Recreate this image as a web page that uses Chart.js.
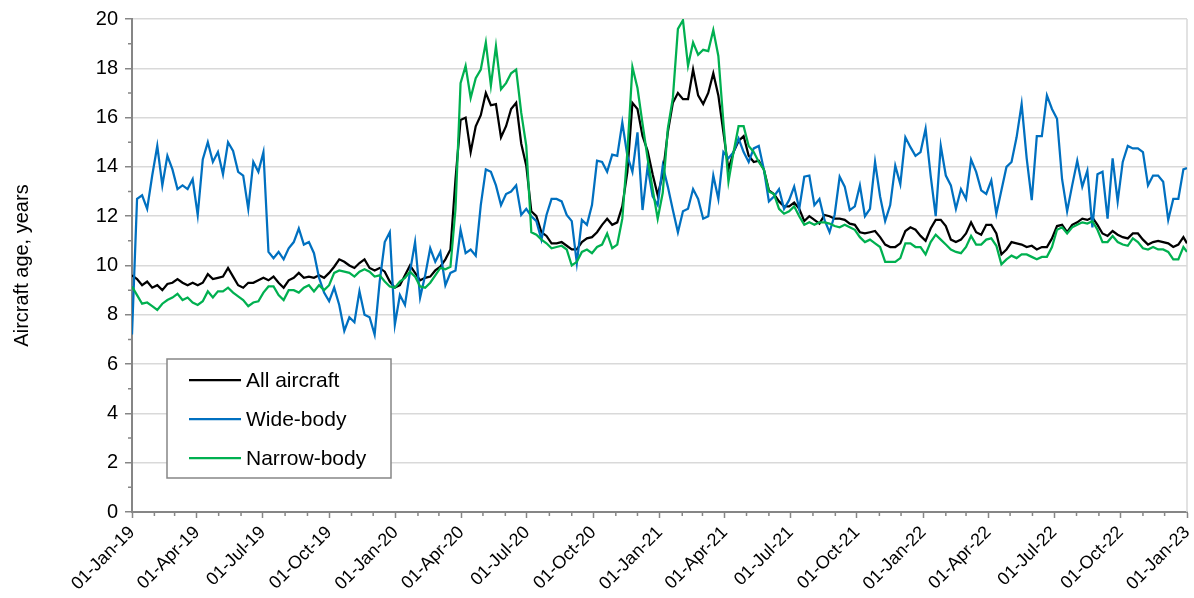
<!DOCTYPE html>
<html>
<head>
<meta charset="utf-8">
<title>Aircraft age</title>
<script src="https://cdn.jsdelivr.net/npm/chart.js@4.4.1/dist/chart.umd.min.js"></script>
<style>
  html, body { margin: 0; padding: 0; background: #fff; }
  #wrap { width: 1194px; height: 598px; }
</style>
</head>
<body>
<div id="wrap"><canvas id="ageChart" width="1194" height="598"></canvas></div>
<script>
const seriesNames = ['All aircraft', 'Wide-body', 'Narrow-body'];
const seriesColors = ['#000000', '#0070C0', '#00B050'];

// weekly samples starting 01-Jan-19, last one on 01-Jan-23
const startDate = Date.UTC(2019, 0, 1);
const stepDays = 7;
const endDay = 1461;

const allAircraft = [
  9.6, 9.45, 9.2, 9.35, 9.1, 9.2, 9.0, 9.25, 9.3, 9.45,
  9.3, 9.2, 9.3, 9.2, 9.3, 9.65, 9.45, 9.5, 9.55, 9.9,
  9.55, 9.2, 9.1, 9.3, 9.3, 9.4, 9.5, 9.4, 9.55, 9.3,
  9.1, 9.4, 9.5, 9.7, 9.5, 9.55, 9.5, 9.6, 9.5, 9.7,
  9.95, 10.25, 10.15, 10.0, 9.9, 10.1, 10.25, 9.9, 9.8, 9.9,
  9.75, 9.35, 9.1, 9.2, 9.6, 10.0, 9.7, 9.4, 9.5, 9.55,
  9.8, 9.95, 10.25, 10.65, 13.5, 15.9, 16.0, 14.6, 15.65, 16.1,
  17.0, 16.5, 16.55, 15.2, 15.65, 16.35, 16.6, 14.95, 14.05, 12.2,
  12.0, 11.35, 11.2, 10.9, 10.9, 10.95, 10.8, 10.65, 10.65, 10.95,
  11.1, 11.15, 11.35, 11.65, 11.9, 11.65, 11.75, 12.4, 13.8, 16.6,
  16.35, 15.25, 14.65, 13.7, 12.85, 13.7, 15.4, 16.6, 17.0, 16.75,
  16.75, 17.95, 16.9, 16.55, 17.0, 17.8, 16.9, 15.4, 13.9, 14.6,
  15.05, 15.25, 14.45, 14.2, 14.25, 13.9, 13.05, 12.9, 12.6, 12.4,
  12.4, 12.55, 12.3, 11.8, 12.0, 11.85, 11.7, 12.05, 12.0, 11.9,
  11.9, 11.85, 11.7, 11.65, 11.35, 11.3, 11.35, 11.4, 11.15, 10.85,
  10.75, 10.75, 10.9, 11.4, 11.55, 11.45, 11.2, 11.0, 11.5, 11.85,
  11.85, 11.6, 11.05, 10.95, 11.05, 11.3, 11.75, 11.35, 11.25, 11.65,
  11.65, 11.3, 10.45, 10.65, 10.95, 10.9, 10.85, 10.75, 10.8, 10.65,
  10.75, 10.75, 11.1, 11.6, 11.65, 11.35, 11.65, 11.75, 11.9, 11.85,
  11.95, 11.65, 11.3, 11.2, 11.4, 11.25, 11.15, 11.1, 11.3, 11.3,
  11.05, 10.85, 10.95, 11.0, 10.95, 10.9, 10.75, 10.85, 11.15, 10.9
];

const wideBody = [
  7.2, 12.7, 12.85, 12.3, 13.65, 14.85, 13.25, 14.45, 13.9, 13.1,
  13.25, 13.1, 13.5, 12.05, 14.3, 15.0, 14.2, 14.6, 13.7, 15.0,
  14.65, 13.8, 13.65, 12.3, 14.2, 13.8, 14.6, 10.55, 10.3, 10.55,
  10.25, 10.7, 10.95, 11.5, 10.85, 10.95, 10.5, 9.5, 8.9, 8.55,
  9.1, 8.4, 7.35, 7.9, 7.7, 8.95, 8.0, 7.9, 7.2, 9.35,
  10.95, 11.35, 7.6, 8.8, 8.4, 9.75, 10.95, 8.7, 9.6, 10.7,
  10.15, 10.55, 9.2, 9.7, 9.8, 11.45, 10.5, 10.65, 10.4, 12.45,
  13.9, 13.8, 13.25, 12.45, 12.9, 13.0, 13.25, 12.05, 12.3, 12.0,
  11.8, 11.05, 12.05, 12.7, 12.7, 12.6, 12.05, 11.8, 10.1, 11.85,
  11.65, 12.45, 14.25, 14.2, 13.8, 14.5, 14.45, 15.8, 14.45, 13.8,
  15.4, 12.25, 14.0, 12.8, 12.45, 14.05, 13.2, 12.25, 11.35, 12.2,
  12.3, 13.1, 12.7, 11.9, 12.0, 13.65, 12.7, 14.6, 14.35, 14.6,
  15.15, 14.6, 14.2, 14.75, 14.85, 13.9, 12.6, 12.8, 13.1, 12.3,
  12.65, 13.2, 12.3, 13.6, 13.65, 12.45, 12.7, 11.85, 11.35, 12.05,
  13.6, 13.2, 12.25, 12.4, 13.25, 12.0, 12.3, 14.2, 12.8, 11.8,
  12.45, 14.05, 13.3, 15.2, 14.8, 14.45, 14.6, 15.55, 13.65, 12.0,
  14.85, 13.65, 13.25, 12.3, 13.1, 12.7, 14.3, 13.8, 13.05, 12.9,
  13.45, 12.1, 13.05, 14.0, 14.2, 15.2, 16.55, 14.35, 12.65, 15.25,
  15.25, 16.9, 16.35, 15.95, 13.5, 12.2, 13.25, 14.25, 13.2, 13.85,
  11.55, 13.7, 13.8, 11.9, 14.35, 12.6, 14.2, 14.85, 14.75, 14.75,
  14.6, 13.25, 13.65, 13.65, 13.4, 11.85, 12.7, 12.7, 13.9, 13.95
];

const narrowBody = [
  9.15, 8.8, 8.45, 8.5, 8.35, 8.2, 8.45, 8.6, 8.7, 8.85,
  8.6, 8.7, 8.5, 8.4, 8.55, 8.95, 8.7, 8.95, 8.95, 9.1,
  8.9, 8.75, 8.6, 8.35, 8.5, 8.55, 8.9, 9.15, 9.15, 8.8,
  8.6, 9.0, 9.0, 8.9, 9.1, 9.2, 8.95, 9.2, 9.0, 9.2,
  9.7, 9.8, 9.75, 9.7, 9.55, 9.75, 9.85, 9.75, 9.55, 9.6,
  9.35, 9.15, 9.1, 9.35, 9.5, 9.75, 9.55, 9.15, 9.1, 9.3,
  9.6, 9.9, 9.85, 9.95, 12.3, 17.4, 18.1, 16.8, 17.6, 17.95,
  19.05, 17.3, 18.9, 17.15, 17.4, 17.8, 17.95, 16.2, 14.85, 11.35,
  11.25, 11.05, 10.9, 10.7, 10.75, 10.8, 10.65, 10.0, 10.15, 10.55,
  10.65, 10.5, 10.75, 10.85, 11.3, 10.7, 10.85, 11.9, 14.6, 18.05,
  17.2, 15.75, 14.35, 13.1, 11.9, 12.95, 15.55, 16.8, 19.6, 19.95,
  18.1, 19.05, 18.55, 18.75, 18.7, 19.55, 18.5, 15.8, 13.4, 14.6,
  15.65, 15.65, 14.85, 14.6, 14.2, 13.9, 13.0, 12.9, 12.3, 12.1,
  12.2, 12.4, 12.0, 11.65, 11.75, 11.65, 11.75, 11.75, 11.7, 11.6,
  11.55, 11.65, 11.55, 11.45, 11.15, 10.95, 11.05, 10.9, 10.75, 10.15,
  10.15, 10.15, 10.3, 10.9, 10.9, 10.75, 10.75, 10.45, 10.95, 11.25,
  11.05, 10.85, 10.65, 10.55, 10.5, 10.75, 11.2, 10.85, 10.85, 11.05,
  11.1, 10.8, 10.05, 10.25, 10.4, 10.3, 10.45, 10.45, 10.35, 10.25,
  10.35, 10.35, 10.75, 11.45, 11.55, 11.3, 11.55, 11.65, 11.75, 11.7,
  11.8, 11.45, 10.95, 10.95, 11.2, 10.95, 10.85, 10.8, 11.1, 10.95,
  10.7, 10.65, 10.75, 10.65, 10.65, 10.55, 10.25, 10.25, 10.75, 10.55
];

const yTicks = [0, 2, 4, 6, 8, 10, 12, 14, 16, 18, 20];
const yMinorTicks = [1, 3, 5, 7, 9, 11, 13, 15, 17, 19];
const monthNames = ['Jan', 'Feb', 'Mar', 'Apr', 'May', 'Jun', 'Jul', 'Aug', 'Sep', 'Oct', 'Nov', 'Dec'];

const FONT = '"Liberation Sans", Arial, sans-serif';
const AXIS_GREY = '#868686';

function dayToDate(d) {
  return new Date(startDate + d * 86400000);
}

function fmtDate(d) {
  const dt = dayToDate(d);
  const yy = String(dt.getUTCFullYear()).slice(2);
  return String(dt.getUTCDate()).padStart(2, '0') + '-' + monthNames[dt.getUTCMonth()] + '-' + yy;
}

// first day of every month on the axis; quarters get a label
const monthStarts = [];
for (let y = 2019; y <= 2023; y++) {
  for (let m = 0; m < 12; m++) {
    const d = (Date.UTC(y, m, 1) - startDate) / 86400000;
    if (d <= endDay) monthStarts.push(d);
  }
}
const quarterStarts = monthStarts.filter(d => dayToDate(d).getUTCMonth() % 3 === 0);

function toPoints(values) {
  return values.map((v, i) => ({ x: Math.min(i * stepDays, endDay), y: v }));
}

// short unlabelled ticks: months on x, odd years on y
const minorTicks = {
  id: 'minorTicks',
  afterDraw(chart) {
    const ctx = chart.ctx;
    const xs = chart.scales.x;
    const ys = chart.scales.y;
    ctx.save();
    ctx.strokeStyle = AXIS_GREY;
    ctx.lineWidth = 1.5;
    ctx.beginPath();
    monthStarts.forEach(d => {
      if (quarterStarts.includes(d)) return;
      const px = xs.getPixelForValue(d);
      ctx.moveTo(px, xs.top);
      ctx.lineTo(px, xs.top + 4);
    });
    yMinorTicks.forEach(v => {
      const py = ys.getPixelForValue(v);
      ctx.moveTo(ys.right - 4, py);
      ctx.lineTo(ys.right, py);
    });
    ctx.stroke();
    ctx.restore();
  }
};

// thin frame line on the right side of the plot
const rightEdge = {
  id: 'rightEdge',
  beforeDatasetsDraw(chart) {
    const a = chart.chartArea;
    const ctx = chart.ctx;
    ctx.save();
    ctx.strokeStyle = '#d9d9d9';
    ctx.lineWidth = 1.5;
    ctx.beginPath();
    ctx.moveTo(a.right, a.top);
    ctx.lineTo(a.right, a.bottom);
    ctx.stroke();
    ctx.restore();
  }
};

// boxed legend inside the plot, lower left
const boxLegend = {
  id: 'boxLegend',
  afterDraw(chart, args, opts) {
    const ctx = chart.ctx;
    ctx.save();
    ctx.fillStyle = '#fff';
    ctx.fillRect(opts.x, opts.y, opts.w, opts.h);
    ctx.strokeStyle = AXIS_GREY;
    ctx.lineWidth = 1.5;
    ctx.strokeRect(opts.x, opts.y, opts.w, opts.h);
    ctx.font = opts.fontSize + 'px ' + FONT;
    ctx.textBaseline = 'middle';
    ctx.fillStyle = '#000';
    chart.data.datasets.forEach((ds, i) => {
      const ly = opts.y + opts.firstRow + i * opts.rowGap;
      ctx.strokeStyle = ds.borderColor;
      ctx.lineWidth = ds.borderWidth;
      ctx.beginPath();
      ctx.moveTo(opts.x + 22, ly);
      ctx.lineTo(opts.x + 74, ly);
      ctx.stroke();
      ctx.fillText(ds.label, opts.x + 79, ly + 1);
    });
    ctx.restore();
  }
};

const ctx = document.getElementById('ageChart').getContext('2d');
const seriesValues = [allAircraft, wideBody, narrowBody];

const ageChart = new Chart(ctx, {
  type: 'line',
  data: {
    datasets: seriesValues.map((vals, i) => ({
      label: seriesNames[i],
      data: toPoints(vals),
      borderColor: seriesColors[i],
      backgroundColor: seriesColors[i],
      borderWidth: 2.25,
      pointRadius: 0,
      tension: 0,
      order: 3 - i
    }))
  },
  options: {
    responsive: false,
    animation: false,
    layout: { padding: { left: 0, right: 7, top: 16, bottom: 0 } },
    plugins: {
      legend: { display: false },
      tooltip: { enabled: false },
      boxLegend: { x: 167, y: 359, w: 224, h: 119, firstRow: 21, rowGap: 39, fontSize: 21 }
    },
    scales: {
      x: {
        type: 'linear',
        min: 0,
        max: endDay,
        afterBuildTicks: s => { s.ticks = quarterStarts.map(v => ({ value: v })); },
        afterFit: s => { s.height = 86; s.paddingLeft = 0; s.paddingRight = 0; },
        ticks: {
          autoSkip: false,
          minRotation: 45,
          maxRotation: 45,
          padding: 4,
          color: '#000',
          font: { family: FONT, size: 18 },
          callback: v => fmtDate(v)
        },
        grid: { drawOnChartArea: false, tickLength: 6, tickColor: AXIS_GREY, tickWidth: 1.5 },
        border: { color: AXIS_GREY, width: 2 }
      },
      y: {
        min: 0,
        max: 20,
        afterBuildTicks: s => { s.ticks = yTicks.map(v => ({ value: v })); },
        afterFit: s => { s.width = 132; },
        ticks: { padding: 7, color: '#000', font: { family: FONT, size: 20 } },
        grid: { color: '#d9d9d9', lineWidth: 1.5, tickLength: 7, tickColor: AXIS_GREY, tickWidth: 1.5 },
        border: { color: AXIS_GREY, width: 2 },
        title: {
          display: true,
          text: 'Aircraft age, years',
          color: '#000',
          font: { family: FONT, size: 20 },
          padding: { top: 10, bottom: 0 }
        }
      }
    }
  },
  plugins: [rightEdge, minorTicks, boxLegend]
});
</script>
</body>
</html>
